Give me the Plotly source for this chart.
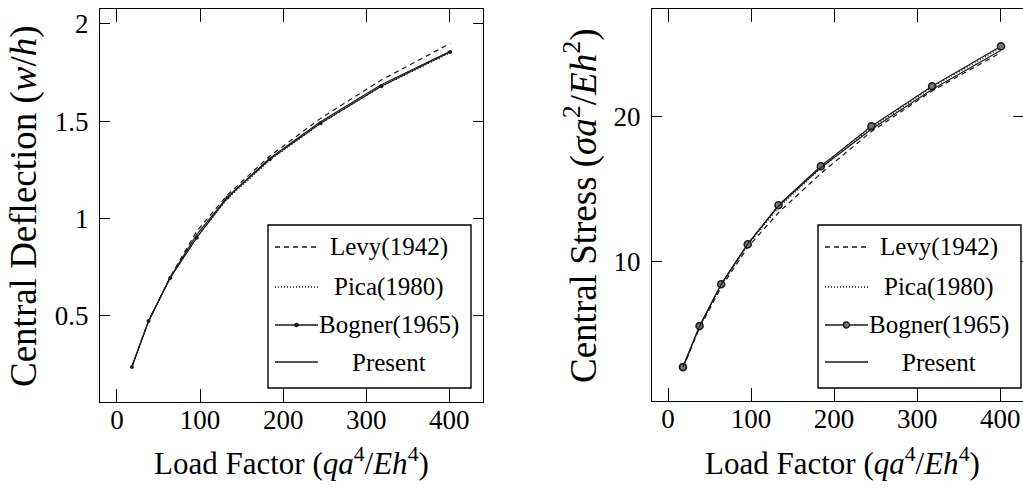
import plotly.graph_objects as go

# ---------------- data ----------------
load = [18, 38, 64, 96, 133, 184, 245, 318, 401]

defl_levy = [0.240, 0.476, 0.700, 0.935, 1.122, 1.322, 1.515, 1.712, 1.900]
defl_pica = [0.238, 0.472, 0.694, 0.905, 1.102, 1.300, 1.488, 1.678, 1.852]
defl_bogner = [0.238, 0.474, 0.695, 0.902, 1.108, 1.305, 1.490, 1.680, 1.856]
defl_present = [0.240, 0.472, 0.698, 0.918, 1.112, 1.310, 1.498, 1.688, 1.860]

stress_levy = [2.62, 5.40, 8.20, 10.95, 13.35, 16.05, 18.95, 21.75, 24.40]
stress_pica = [2.66, 5.48, 8.35, 11.10, 13.70, 16.40, 19.20, 22.00, 24.72]
stress_bogner = [2.69, 5.52, 8.41, 11.17, 13.86, 16.55, 19.31, 22.07, 24.83]
stress_present = [2.70, 5.50, 8.40, 11.20, 13.80, 16.45, 19.10, 21.85, 24.55]

series_names = ["Levy(1942)", "Pica(1980)", "Bogner(1965)", "Present"]
x_ticks = [0, 100, 200, 300, 400]
defl_ticks = [0.5, 1, 1.5, 2]
defl_ticktext = ["0.5", "1", "1.5", "2"]
stress_ticks = [10, 20]

# ---------------- style ----------------
W, H = 1023, 496
FONT = "Liberation Serif"
LC = "#1a1a1a"


def px(x):
    return x / W


def py(y):
    return 1 - y / H


fig = go.Figure()

left_sets = [defl_levy, defl_pica, defl_bogner, defl_present]
right_sets = [stress_levy, stress_pica, stress_bogner, stress_present]
dashes = ["5px,4px", "1px,2px", "solid", "solid"]

for i, (name, ys) in enumerate(zip(series_names, left_sets)):
    mode = "lines+markers" if i == 2 else "lines"
    fig.add_trace(go.Scatter(
        x=load, y=ys, mode=mode, name=name, showlegend=False,
        line=dict(color=LC, width=1.2, dash=dashes[i]),
        marker=dict(size=4, color=LC, symbol="circle"),
        xaxis="x", yaxis="y"))

for i, (name, ys) in enumerate(zip(series_names, right_sets)):
    mode = "lines+markers" if i == 2 else "lines"
    fig.add_trace(go.Scatter(
        x=load, y=ys, mode=mode, name=name, showlegend=False,
        line=dict(color=LC, width=1.2, dash=dashes[i]),
        marker=dict(size=7, color="#777", symbol="circle",
                    line=dict(color=LC, width=1.6)),
        xaxis="x2", yaxis="y2"))

axis_common = dict(
    showgrid=False, zeroline=False, showline=True, linecolor="black",
    linewidth=1.4, mirror="ticks", ticks="inside", tickcolor="black",
    tickwidth=1, tickfont=dict(family=FONT, size=27, color="black"),
)

fig.update_layout(
    width=W, height=H, margin=dict(l=0, r=0, t=0, b=0),
    paper_bgcolor="white", plot_bgcolor="white", showlegend=False,
    xaxis=dict(domain=[px(100), px(483)], range=[-20.4, 440.5],
               tickvals=x_ticks, ticklen=13, anchor="y",
               ticklabelstandoff=-7, **axis_common),
    yaxis=dict(domain=[py(402), py(9)], range=[0.058, 2.077],
               tickvals=defl_ticks, ticktext=defl_ticktext, ticklen=10,
               anchor="x", ticklabelstandoff=5, **axis_common),
    xaxis2=dict(domain=[px(652), 1.0], range=[-19.3, 427.5],
                tickvals=x_ticks, ticklen=13, anchor="y2",
                ticklabelstandoff=-7, **axis_common),
    yaxis2=dict(domain=[py(401), py(9)], range=[0.35, 27.4],
                tickvals=stress_ticks, ticklen=10, anchor="x2",
                ticklabelstandoff=5, **axis_common),
)

# axis titles
ann = []
title_font = dict(family=FONT, size=31, color="black")
ytitle_font = dict(family=FONT, size=37, color="black")
for cx in (291, 842):
    ann.append(dict(text="Load Factor (<i>qa</i><sup>4</sup>/<i>Eh</i><sup>4</sup>)",
                    x=px(cx), y=py(461), xref="paper", yref="paper",
                    xanchor="center", yanchor="middle",
                    showarrow=False, font=title_font))
ann.append(dict(text="Central Deflection (<i>w</i>/<i>h</i>)", textangle=-90,
                x=px(24), y=py(206), xref="paper", yref="paper",
                xanchor="center", yanchor="middle",
                showarrow=False, font=ytitle_font))
ann.append(dict(text="Central Stress (<i>σa</i><sup>2</sup>/<i>Eh</i><sup>2</sup>)",
                textangle=-90,
                x=px(581), y=py(206), xref="paper", yref="paper",
                xanchor="center", yanchor="middle",
                showarrow=False, font=ytitle_font))

# custom legends
shapes = []
row_y = [247, 287, 325, 362]
for lx, rx, marker_kind in [(268, 471, "dot"), (818, 1021, "ring")]:
    shapes.append(dict(type="rect", xref="paper", yref="paper",
                       x0=px(lx), x1=px(rx), y0=py(388), y1=py(225),
                       line=dict(color="black", width=1.4),
                       fillcolor="white", layer="above"))
    for i, name in enumerate(series_names):
        yy = py(row_y[i])
        shapes.append(dict(type="line", xref="paper", yref="paper",
                           x0=px(lx + 7), x1=px(lx + 50), y0=yy, y1=yy,
                           line=dict(color=LC, width=1.3,
                                     dash=dashes[i]), layer="above"))
        ann.append(dict(text=name, x=px(lx + 121), y=yy, xref="paper",
                        yref="paper", showarrow=False, xanchor="center",
                        yanchor="middle",
                        font=dict(family=FONT, size=25, color="black")))
    cx, cy = lx + 28.5, row_y[2]
    r = 1.6 if marker_kind == "dot" else 3
    shapes.append(dict(type="circle", xref="paper", yref="paper",
                       x0=px(cx - r), x1=px(cx + r), y0=py(cy + r), y1=py(cy - r),
                       line=dict(color=LC, width=1.4),
                       fillcolor=LC if marker_kind == "dot" else "#777",
                       layer="above"))

fig.update_layout(annotations=ann, shapes=shapes)
fig.write_html("out.html",
               config={"displayModeBar": False},
               post_script="document.body.style.margin='0';"
                           "document.body.style.overflow='hidden';")
